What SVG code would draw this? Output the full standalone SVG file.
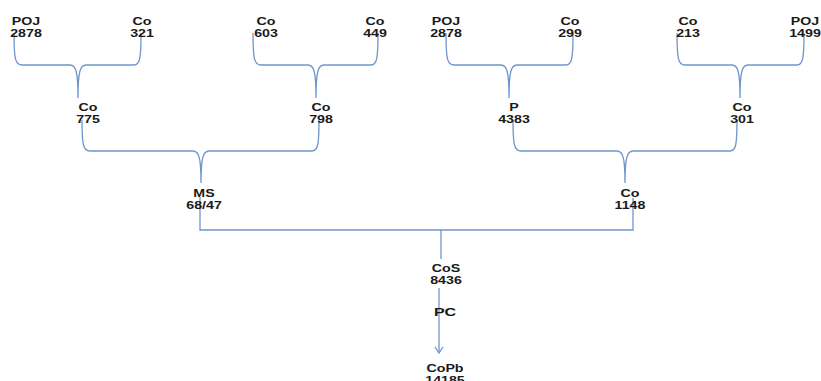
<svg xmlns="http://www.w3.org/2000/svg" width="821" height="381" viewBox="0 0 821 381">
<style>
.t{font-family:"Liberation Sans",Arial,sans-serif;font-size:10.3px;font-weight:bold;fill:#1a1a1a;text-anchor:middle}
.pc{font-family:"Liberation Sans",Arial,sans-serif;font-size:11.6px;font-weight:bold;fill:#151515;text-anchor:middle}
.c{fill:none;stroke:#6f95cc;stroke-width:1.3}
</style>
<defs>
<marker id="ah" viewBox="0 0 10 10" refX="9" refY="5" markerWidth="10" markerHeight="10" markerUnits="userSpaceOnUse" orient="auto">
<path d="M3,1 L9,5 L3,9" fill="none" stroke="#6f95cc" stroke-width="1.3"/>
</marker>
</defs>
<rect width="821" height="381" fill="#ffffff"/>
<g id="connectors">
<path class="c" d="M14,33 C14,58 15,65 22,65 L70,65 C76,65 78,72 78,98 C78,72 80,65 86,65 L134,65 C140,65 141,58 141,33"/>
<path class="c" d="M253,33 C253,58 254,65 261,65 L308,65 C314,65 316,72 316,98 C316,72 318,65 324,65 L371,65 C377,65 378,58 378,33"/>
<path class="c" d="M446,33 C446,58 447,65 454,65 L501,65 C507,65 509,72 509,98 C509,72 511,65 517,65 L566,65 C572,65 573,58 573,33"/>
<path class="c" d="M677,33 C677,58 678,65 685,65 L732,65 C738,65 740,72 740,98 C740,72 742,65 748,65 L797,65 C803,65 804,58 804,33"/>
<path class="c" d="M82,120 C82,144 83,151 90,151 L193,151 C199,151 201,158 201,183 C201,158 203,151 209,151 L312,151 C318,151 319,144 319,120"/>
<path class="c" d="M513,120 C513,144 514,151 521,151 L617,151 C623,151 625,158 625,183 C625,158 627,151 633,151 L730,151 C736,151 737,144 737,120"/>
<path class="c" d="M200,197 L200,230 L633,230 L633,198"/>
<path class="c" d="M441,230 L441,259"/>
<path class="c" d="M439,288 L439,353" marker-end="url(#ah)"/>
</g>
<g id="n1" transform="translate(26,0) scale(1.38,1)"><text class="t" x="0" y="25">POJ</text><text class="t" x="0" y="37">2878</text></g>
<g id="n2" transform="translate(142,0) scale(1.38,1)"><text class="t" x="0" y="25">Co</text><text class="t" x="0" y="37">321</text></g>
<g id="n3" transform="translate(266,0) scale(1.38,1)"><text class="t" x="0" y="25">Co</text><text class="t" x="0" y="37">603</text></g>
<g id="n4" transform="translate(375,0) scale(1.38,1)"><text class="t" x="0" y="25">Co</text><text class="t" x="0" y="37">449</text></g>
<g id="n5" transform="translate(446,0) scale(1.38,1)"><text class="t" x="0" y="25">POJ</text><text class="t" x="0" y="37">2878</text></g>
<g id="n6" transform="translate(570,0) scale(1.38,1)"><text class="t" x="0" y="25">Co</text><text class="t" x="0" y="37">299</text></g>
<g id="n7" transform="translate(688,0) scale(1.38,1)"><text class="t" x="0" y="25">Co</text><text class="t" x="0" y="37">213</text></g>
<g id="n8" transform="translate(805,0) scale(1.38,1)"><text class="t" x="0" y="25">POJ</text><text class="t" x="0" y="37">1499</text></g>
<g id="n9" transform="translate(88,0) scale(1.38,1)"><text class="t" x="0" y="111">Co</text><text class="t" x="0" y="123">775</text></g>
<g id="n10" transform="translate(321,0) scale(1.38,1)"><text class="t" x="0" y="111">Co</text><text class="t" x="0" y="123">798</text></g>
<g id="n11" transform="translate(514,0) scale(1.38,1)"><text class="t" x="0" y="111">P</text><text class="t" x="0" y="123">4383</text></g>
<g id="n12" transform="translate(742,0) scale(1.38,1)"><text class="t" x="0" y="111">Co</text><text class="t" x="0" y="123">301</text></g>
<g id="n13" transform="translate(204,0) scale(1.38,1)"><text class="t" x="0" y="197">MS</text><text class="t" x="0" y="209">68/47</text></g>
<g id="n14" transform="translate(630,0) scale(1.38,1)"><text class="t" x="0" y="197">Co</text><text class="t" x="0" y="209">1148</text></g>
<g id="n15" transform="translate(446,0) scale(1.38,1)"><text class="t" x="0" y="272">CoS</text><text class="t" x="0" y="284">8436</text></g>
<g id="n16" transform="translate(445,0) scale(1.38,1)"><text class="pc" x="0" y="316">PC</text></g>
<g id="n17" transform="translate(445,0) scale(1.38,1)"><text class="t" x="0" y="372">CoPb</text><text class="t" x="0" y="384">14185</text></g>
</svg>
